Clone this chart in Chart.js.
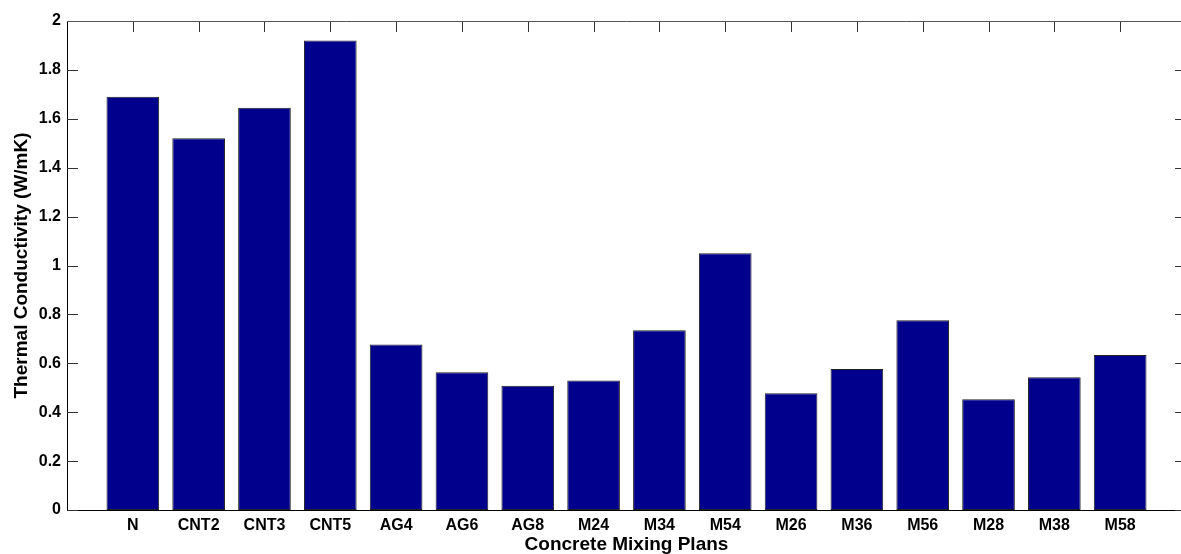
<!DOCTYPE html>
<html>
<head>
<meta charset="utf-8">
<script src="https://cdn.jsdelivr.net/npm/chart.js@4/dist/chart.umd.min.js"></script>
<style>
  html, body { margin:0; padding:0; background:#fff; overflow:hidden; }
  #wrap { width:1200px; height:554px; }
</style>
</head>
<body>
<div id="wrap"><canvas id="chart" width="1200" height="554"></canvas></div>
<script>
const plans = ["N","CNT2","CNT3","CNT5","AG4","AG6","AG8","M24","M34","M54","M26","M36","M56","M28","M38","M58"];
const conductivity = [1.69,1.52,1.645,1.92,0.677,0.563,0.508,0.530,0.735,1.050,0.477,0.577,0.776,0.453,0.543,0.634];
const yTicks = [0,0.2,0.4,0.6,0.8,1,1.2,1.4,1.6,1.8,2];

const FONT = "'Liberation Sans', Arial, Helvetica, sans-serif";

// MATLAB-style box with inward ticks, drawn under the bars
const boxTicks = {
  id: "boxTicks",
  beforeDatasetsDraw(chart){
    const {ctx, chartArea:a, scales:{x, y}} = chart;
    const len = 11;
    ctx.save();
    ctx.lineWidth = 1;
    ctx.strokeStyle = "#333";
    ctx.beginPath();
    plans.forEach((p, i) => {
      const px = Math.round(x.getPixelForValue(i + 1)) + 0.5;
      ctx.moveTo(px, a.top); ctx.lineTo(px, a.top + len);
      ctx.moveTo(px, a.bottom); ctx.lineTo(px, a.bottom - len);
    });
    yTicks.forEach(v => {
      const py = Math.round(y.getPixelForValue(v)) + 0.5;
      ctx.moveTo(a.left, py); ctx.lineTo(a.left + len, py);
      ctx.moveTo(a.right, py); ctx.lineTo(a.right - len, py);
    });
    ctx.stroke();
    ctx.strokeStyle = "#555";
    ctx.beginPath();
    ctx.moveTo(a.left, Math.round(a.top) + 0.5); ctx.lineTo(a.right, Math.round(a.top) + 0.5);
    ctx.moveTo(Math.round(a.right) + 0.5, a.top); ctx.lineTo(Math.round(a.right) + 0.5, a.bottom);
    ctx.stroke();
    ctx.restore();
  }
};

new Chart(document.getElementById("chart"), {
  type: "bar",
  data: {
    datasets: [{
      data: conductivity.map((v, i) => ({ x: i + 1, y: v })),
      backgroundColor: "#00008C",
      borderColor: "#222",
      borderWidth: 1,
      borderSkipped: false,
      categoryPercentage: 0.8,
      barPercentage: 1
    }]
  },
  options: {
    responsive: false,
    animation: false,
    layout: { padding: { top: 21, right: 14, left: 0, bottom: 0 } },
    plugins: { legend: { display:false }, tooltip: { enabled:false } },
    scales: {
      x: {
        type: "linear",
        offset: false,
        min: 0, max: 17,
        afterFit: s => { s.height = 44; },
        grid: { display:false, drawTicks:false, offset:false },
        border: { display:true, color:"#000", width:1 },
        ticks: {
          stepSize: 1, autoSkip: false, maxRotation: 0, padding: 6,
          color: "#000",
          font: { family: FONT, size: 16, weight: "bold" },
          callback: v => plans[v - 1] || ""
        },
        title: {
          display: true,
          text: "Concrete Mixing Plans",
          color: "#000",
          padding: { top: 0, bottom: -2 },
          font: { family: FONT, size: 19, weight: "bold" }
        }
      },
      y: {
        min: 0, max: 2,
        afterFit: s => { s.width = 67; },
        grid: { display:false, drawTicks:false },
        border: { display:true, color:"#000", width:1 },
        ticks: {
          stepSize: 0.2, padding: 6,
          color: "#000",
          font: { family: FONT, size: 16, weight: "bold" },
          callback: v => String(+v.toFixed(1))
        },
        title: {
          display: true,
          text: "Thermal Conductivity (W/mK)",
          color: "#000",
          padding: { top: 10, bottom: 0 },
          font: { family: FONT, size: 19, weight: "bold" }
        }
      }
    }
  },
  plugins: [boxTicks]
});
</script>
</body>
</html>
